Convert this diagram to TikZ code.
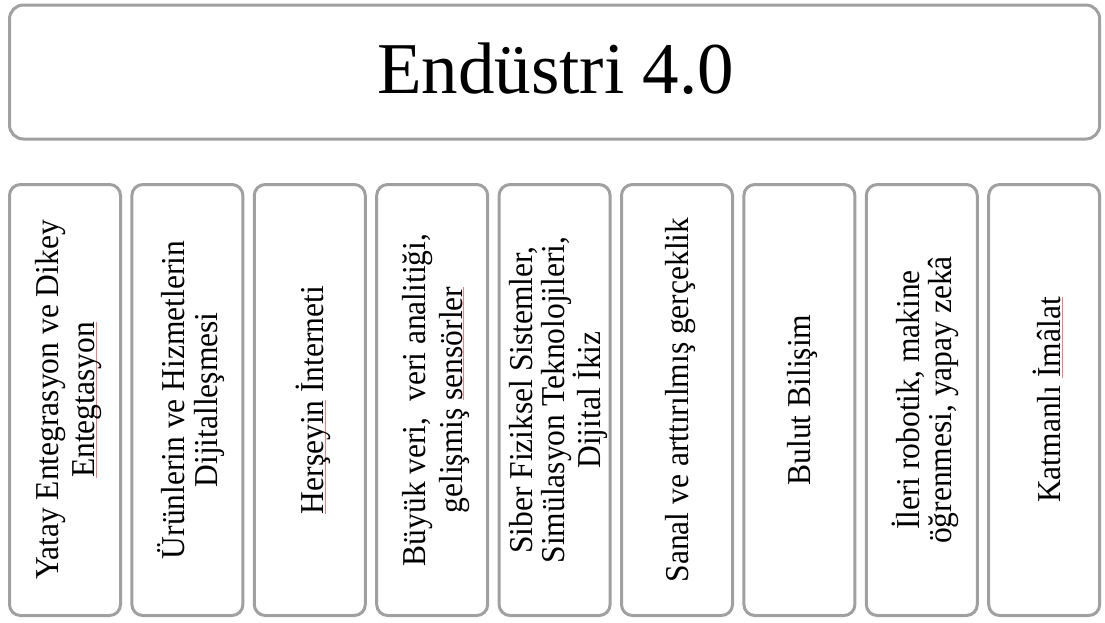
\documentclass[tikz,border=0pt]{standalone}
\usepackage{fontspec}
\setmainfont{Liberation Serif}
\definecolor{boxgray}{HTML}{A0A0A0}
\definecolor{spell}{HTML}{F08080}
\newsavebox\spbox
\newcommand\spellmark[1]{\sbox\spbox{#1}\rlap{\textcolor{spell}{\rule[-2pt]{\wd\spbox}{0.9pt}}}\usebox\spbox}
\tikzset{
  frame/.style={draw=boxgray, line width=3pt, rounded corners=14pt, fill=white, inner sep=0pt},
  colbox/.style={draw=boxgray, line width=3pt, rounded corners=11pt, fill=white,
    minimum width=111pt, minimum height=431pt, inner sep=0pt},
  coltext/.style={xshift=3.5pt, rotate=90, yscale=1.06, align=center, inner sep=0pt,
    font=\fontsize{31.5}{31.5}\selectfont},
  widelines/.style={font=\fontsize{31.5}{34.6}\selectfont},
  narrowlines/.style={font=\fontsize{31.5}{30.5}\selectfont},
  titletext/.style={font=\fontsize{73}{80}\selectfont, inner sep=0pt, anchor=base},
}
\begin{document}
\begin{tikzpicture}[x=1pt,y=-1pt]
\useasboundingbox[fill=white] (0,0) rectangle (1105,622);
\node[frame, minimum width=1090.2pt, minimum height=134pt] (top) at (554.6,72) {};
\node[titletext] (title) at (555.5,93) {Endüstri 4.0};
% columns
\node[colbox] (c1) at (65.0,400) {};
\node[colbox] (c2) at (187.4,400) {};
\node[colbox] (c3) at (309.8,400) {};
\node[colbox] (c4) at (432.2,400) {};
\node[colbox] (c5) at (554.6,400) {};
\node[colbox] (c6) at (677.0,400) {};
\node[colbox] (c7) at (799.4,400) {};
\node[colbox] (c8) at (921.8,400) {};
\node[colbox] (c9) at (1044.2,400) {};
% texts
\node[coltext, widelines] (t1) at (c1) {Yatay Entegrasyon ve Dikey\\\spellmark{Entegtasyon}};
\node[coltext, narrowlines] (t2) at (c2) {Ürünlerin ve Hizmetlerin\\Dijitalleşmesi};
\node[coltext] (t3) at (c3) {\spellmark{Herşeyin} İnterneti};
\node[coltext, widelines] (t4) at (c4) {Büyük veri,\ \ veri analitiği,\\gelişmiş \spellmark{sensörler}};
\node[coltext, narrowlines] (t5) at (c5) {Siber Fiziksel Sistemler,\\Simülasyon Teknolojileri,\\Dijital İkiz};
\node[coltext] (t6) at (c6) {Sanal ve arttırılmış gerçeklik};
\node[coltext] (t7) at (c7) {Bulut Bilişim};
\node[coltext, narrowlines] (t8) at (c8) {İleri robotik, makine\\öğrenmesi, yapay zekâ};
\node[coltext] (t9) at (c9) {Katmanlı \spellmark{İmâlat}};
\end{tikzpicture}
\end{document}
